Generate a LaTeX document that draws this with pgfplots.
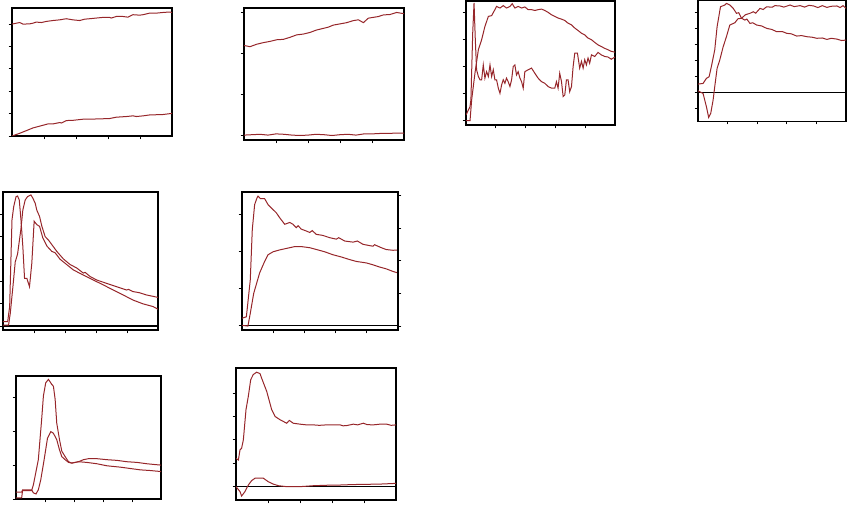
\documentclass[border=0pt]{standalone}
\usepackage{pgfplots}
\pgfplotsset{compat=1.18}
\definecolor{lc}{RGB}{150,38,42}
\pgfplotscreateplotcyclelist{mylist}{lc,line width=0.75pt,no markers,sharp plot\\}
\pgfplotsset{
  panel/.style={scale only axis, anchor=north west, xmin=0, xmax=100,
    xtick={20,40,60,80}, xticklabels={}, yticklabels={},
    tick align=outside, major tick length=2.5pt,
    xtick pos=left, ytick pos=left,
    axis line style={line width=0.8pt},
    every tick/.style={black, line width=0.6pt},
    cycle list name=mylist},
  zl/.style={black, line width=0.8pt}
}
\begin{document}
\begin{tikzpicture}
\useasboundingbox (0,0) rectangle (640.5pt,379.5pt);
% Panel 1
\begin{axis}[panel, at={(9pt,373.5pt)}, width=120pt, height=96pt, ymin=0, ymax=5.72, ytick={0,1,2,3,4,5}]
\addplot coordinates {(0,5.0) (2,5.03) (4.8,5.07) (6.9,5.0) (11,5.01) (13,5.04) (15.2,5.09) (18.3,5.07) (21.5,5.12) (25.6,5.16) (29.8,5.19) (33.9,5.24) (38.1,5.19) (42.3,5.16) (45.4,5.22) (48.5,5.24) (52.7,5.27) (56.9,5.30) (61,5.30) (62,5.27) (65.2,5.34) (69.4,5.34) (72.5,5.31) (75.6,5.42) (79.8,5.40) (81.9,5.42) (86,5.49) (90.2,5.49) (94.4,5.52) (98.5,5.54) (100,5.52)};
\addplot coordinates {(0,0) (4.8,0.12) (9,0.24) (13.1,0.36) (19.4,0.48) (22.5,0.54) (25.6,0.54) (29.8,0.60) (31,0.58) (34,0.69) (38.1,0.70) (44.4,0.75) (52.7,0.76) (61,0.78) (65.2,0.84) (71.5,0.87) (75.6,0.90) (77.7,0.87) (81.9,0.90) (86,0.94) (94.4,0.96) (100,1.01)};
\end{axis}
% Panel 2
\begin{axis}[panel, at={(183pt,373.5pt)}, width=120pt, height=99pt, ymin=-0.12, ymax=3.12, ytick={0,1,2,3}]
\addplot coordinates {(0,2.20) (3.75,2.17) (7.9,2.23) (12.1,2.27) (16.25,2.30) (20.4,2.34) (24.6,2.35) (28.75,2.40) (32.9,2.46) (37.1,2.48) (41.25,2.52) (45.4,2.58) (49.6,2.62) (52.7,2.65) (55.8,2.70) (60,2.73) (64.2,2.76) (68.3,2.81) (71.5,2.83) (74.6,2.76) (77.7,2.87) (80.8,2.89) (83.96,2.91) (87.1,2.95) (91.25,2.96) (95.4,3.01) (98.5,2.99) (100,2.98)};
\addplot coordinates {(0,0) (5,0.01) (10,0.02) (15,0) (20,0.03) (25,0.02) (30,0) (35,-0.01) (40,0) (45,0.02) (50,0.01) (55,-0.01) (60,0.01) (65,0.02) (70,0) (75,0.03) (80,0.03) (85,0.04) (90,0.04) (95,0.05) (100,0.05)};
\end{axis}
% Panel 3
\begin{axis}[panel, at={(349.5pt,378.75pt)}, width=111.75pt, height=93pt, ymin=-0.16, ymax=4.42, ytick={0,1,2,3,4}]
\addplot coordinates {(0,0.21) (2.7,0.52) (3.3,0.77) (4.5,3.23) (5.4,4.35) (6.25,2.99) (7.1,1.88) (8.3,1.63) (9.4,1.51) (10.5,1.51) (11.6,2.06) (12.7,1.57) (13.8,1.81) (15,1.63) (16.1,2.06) (17.2,1.63) (18.3,1.88) (19.4,1.51) (20.5,1.51) (21.7,1.20) (22.8,1.01) (23.9,1.32) (25,1.51) (26.1,1.38) (27.2,1.57) (28.3,1.44) (29.5,1.26) (30.6,1.51) (31.7,2.0) (32.8,2.06) (33.9,1.69) (35,1.81) (36.2,1.57) (37.3,1.44) (38.4,1.20) (39.5,1.81) (41.7,1.88) (44,1.94) (46.2,1.75) (48.4,1.57) (50.7,1.44) (52.9,1.38) (55.1,1.26) (57.4,1.20) (59.6,1.20) (60.7,1.44) (61.8,1.20) (62.9,1.75) (64.1,1.44) (65.2,0.89) (66.3,0.95) (67.4,1.51) (68.5,1.51) (69.6,1.07) (70.8,1.26) (71.9,2.0) (73,2.49) (74.8,2.49) (76.3,1.94) (77.5,2.19) (78.6,1.94) (79.7,2.25) (80.8,2.06) (81.9,2.31) (83,2.12) (84.2,2.43) (86.4,2.37) (88.6,2.52) (90.8,2.43) (93.1,2.37) (95.3,2.35) (97.5,2.27) (100,2.35)};
\addplot coordinates {(0,0) (2.7,0) (3.8,0.77) (6,1.75) (8.3,2.62) (10.5,2.99) (12.7,3.48) (15,3.85) (17.2,3.88) (19.4,4.10) (20.5,4.22) (22.8,4.16) (25,4.25) (27.2,4.16) (29.5,4.22) (31,4.32) (32.8,4.16) (35,4.22) (37.3,4.16) (39.5,4.20) (41.7,4.10) (44,4.10) (46.2,4.07) (48.4,4.10) (50.7,4.12) (52.9,4.07) (55.1,4.0) (57.4,3.91) (59.6,3.85) (61.8,3.79) (64.1,3.75) (66.3,3.70) (68.5,3.60) (70.8,3.54) (73,3.42) (75.2,3.33) (77.5,3.23) (79.7,3.17) (81.9,3.05) (84.2,2.99) (86.4,2.89) (88.6,2.80) (90.8,2.74) (93.1,2.67) (95.3,2.62) (97.5,2.56) (100,2.53)};
\end{axis}
% Panel 4
\begin{axis}[panel, at={(523.5pt,379.1pt)}, width=111pt, height=90.4pt, ymin=-1.79, ymax=5.74, ytick={-1,0,1,2,3,4,5}]
\addplot[zl] coordinates {(0,0) (100,0)};
\addplot coordinates {(0,0.52) (3.4,0.56) (5.7,0.88) (7.5,0.98) (9,1.60) (11.3,2.65) (12.9,4.10) (15.2,5.35) (18.1,5.46) (19.2,5.56) (21.5,5.46) (23.8,5.25) (26,4.94) (27.5,4.98) (29.4,4.63) (31.7,4.52) (33,4.58) (35.1,4.31) (37,4.35) (39.6,4.21) (43,4.15) (46.4,4.0) (50,3.93) (53.2,3.79) (57,3.80) (60,3.69) (63,3.66) (66.7,3.52) (70,3.55) (73.5,3.48) (77,3.45) (80.3,3.38) (84,3.40) (87.1,3.31) (90,3.38) (93.9,3.33) (97,3.24) (100,3.27)};
\addplot coordinates {(0,0.10) (3.4,-0.06) (5.7,-0.90) (7.2,-1.56) (8.6,-1.31) (10.2,-0.48) (11.3,0.35) (12.9,1.50) (14.7,2.02) (17,2.85) (19.2,3.48) (21.5,4.21) (24.9,4.35) (27,4.60) (29.4,4.63) (32,4.85) (35.1,4.94) (37.3,5.04) (39,4.95) (41.9,5.25) (44,5.18) (46.4,5.35) (50,5.32) (52,5.42) (55.4,5.40) (58,5.33) (62.2,5.46) (65,5.36) (69,5.42) (72,5.33) (75,5.44) (78.1,5.40) (81,5.30) (84,5.42) (87.1,5.31) (90,5.38) (93.9,5.40) (96,5.30) (98,5.42) (100,5.25)};
\end{axis}
% Panel 5
\begin{axis}[panel, at={(2.25pt,235.5pt)}, width=116.25pt, height=103.5pt, ymin=-0.18, ymax=6.0, ytick={0,1,2,3,4,5}]
\addplot[zl] coordinates {(0,0) (100,0)};
\addplot coordinates {(0,0.19) (3,0.19) (4.3,0.87) (5.8,4.75) (6.9,5.34) (8.4,5.79) (9.4,5.82) (10.5,5.64) (11.6,4.75) (12.8,3.55) (13.9,2.13) (15.4,2.13) (17.1,1.76) (18.6,2.82) (20.1,4.69) (21.8,4.54) (23.6,4.46) (25.7,3.94) (28.3,3.58) (31.5,3.34) (33.6,3.28) (36.8,2.99) (41.1,2.75) (45.4,2.51) (51.8,2.28) (58.2,2.06) (64.7,1.84) (71.1,1.61) (77.5,1.39) (83.9,1.16) (90.4,0.99) (96.8,0.87) (100,0.75)};
\addplot coordinates {(0,0.04) (3.6,0.04) (4.7,0.57) (6.4,1.76) (7.9,2.87) (9.4,3.22) (11.6,4.36) (12.8,5.19) (14.3,5.64) (15.8,5.79) (18,5.87) (19.3,5.72) (20.8,5.49) (21.8,5.19) (23.6,4.90) (25.1,4.46) (27.2,4.0) (29.3,3.85) (32.5,3.55) (34.7,3.34) (39,3.0) (43.3,2.75) (47.5,2.60) (51.8,2.37) (53,2.40) (56.1,2.22) (60.4,2.06) (66.8,1.91) (73.2,1.76) (79.7,1.61) (81,1.64) (83.9,1.54) (88,1.49) (92.5,1.39) (100,1.28)};
\end{axis}
% Panel 6
\begin{axis}[panel, at={(181.5pt,235.5pt)}, width=117pt, height=103.5pt, ymin=-0.126, ymax=3.59, ytick={0,1,2,3}]
\addplot[zl] coordinates {(0,0) (100,0)};
\addplot coordinates {(0,0.19) (2.8,0.23) (5.3,1.22) (6.6,2.58) (8.1,3.25) (9.6,3.43) (10.3,3.48) (11.8,3.41) (14.5,3.41) (16.7,3.25) (18.8,3.16) (22,3.03) (24.1,2.90) (27.4,2.72) (30.6,2.77) (32.7,2.72) (34.8,2.63) (36,2.68) (38,2.59) (41.2,2.54) (43.4,2.50) (45,2.55) (47.6,2.45) (51.9,2.42) (56.2,2.36) (60.5,2.32) (62,2.36) (65.8,2.27) (71.2,2.24) (74,2.27) (77.6,2.18) (83.9,2.13) (85,2.17) (89.3,2.09) (92.5,2.04) (96.8,2.02) (100,2.03)};
\addplot coordinates {(0,0) (3.8,-0.02) (5.3,0.32) (7.5,0.86) (11.3,1.41) (14.5,1.72) (16.7,1.90) (19.9,1.98) (24.1,2.03) (29.5,2.08) (33.8,2.12) (38,2.12) (43.4,2.09) (48.7,2.03) (53,1.98) (58.3,1.90) (63.7,1.84) (69,1.77) (73.3,1.72) (79.7,1.68) (83.9,1.63) (88.2,1.57) (92.5,1.52) (96.8,1.45) (100,1.41)};
\end{axis}
\begin{axis}[scale only axis, anchor=north west, at={(181.5pt,235.5pt)}, width=117pt, height=103.5pt, xmin=0, xmax=100, ymin=-0.12, ymax=4.11, axis x line=none, axis y line*=right, ytick={0,1,2,3,4}, yticklabels={}, tick align=outside, major tick length=2.5pt, axis line style={line width=0.8pt}, every tick/.style={black, line width=0.6pt}]
\addplot[draw=none] coordinates {(0,0)};
\end{axis}
% Panel 7
\begin{axis}[panel, at={(12pt,97.5pt)}, width=108.75pt, height=92.25pt, ymin=0, ymax=3.63, ytick={0,1,2,3}]
\addplot coordinates {(0,0.20) (3.9,0.20) (4.4,0.25) (10.8,0.25) (12,0.42) (15.4,1.16) (17.7,2.35) (18.9,3.04) (20.5,3.43) (22.4,3.53) (24.7,3.38) (25.8,3.33) (27,2.94) (28.1,2.24) (30,1.75) (31.6,1.41) (33.9,1.25) (36.2,1.10) (38.5,1.06) (40.8,1.08) (43.1,1.10) (48.8,1.08) (55.8,1.04) (62.7,0.98) (71.9,0.94) (78.8,0.90) (85.7,0.86) (92.6,0.84) (100,0.81)};
\addplot coordinates {(0,0.03) (3.9,0.03) (4.6,0.27) (10.8,0.27) (12,0.18) (13.8,0.15) (15.4,0.27) (17.1,0.57) (19.4,1.16) (21.7,1.79) (24,1.99) (25.8,1.94) (28.1,1.75) (30,1.45) (31.6,1.25) (33.9,1.16) (36.2,1.08) (38.5,1.06) (43.1,1.10) (46.5,1.16) (50,1.19) (55.8,1.19) (62.7,1.16) (69.6,1.14) (76.5,1.10) (83.4,1.08) (90.3,1.04) (94.9,1.02) (100,1.0)};
\end{axis}
% Panel 8
\begin{axis}[panel, at={(177pt,103.5pt)}, width=120pt, height=99pt, ymin=-0.57, ymax=5.07, ytick={0,1,2,3,4}]
\addplot[zl] coordinates {(0,0) (100,0)};
\addplot coordinates {(0,1.21) (1.5,1.14) (2.5,1.57) (3.5,1.64) (4.6,2.0) (6.25,3.29) (7.7,3.86) (9.2,4.57) (10.8,4.79) (12.9,4.89) (15,4.83) (16,4.64) (19.2,4.07) (22.3,3.29) (24.4,3.0) (27.5,2.86) (31.7,2.71) (33.3,2.83) (35.8,2.71) (40,2.67) (44,2.64) (48.3,2.64) (52,2.62) (56.7,2.64) (65,2.64) (67,2.60) (69.2,2.61) (73.3,2.67) (76,2.64) (79.6,2.71) (82,2.65) (85.8,2.64) (90,2.67) (94.2,2.67) (97,2.62) (100,2.64)};
\addplot coordinates {(0,0) (2.5,-0.21) (3.5,-0.40) (5.6,-0.21) (7.7,0.07) (9.8,0.26) (11.9,0.36) (17.1,0.36) (20.2,0.21) (23.3,0.11) (26.5,0.04) (31.7,0) (40,0) (48.3,0.04) (56.7,0.06) (65,0.07) (73.3,0.09) (81.7,0.10) (90,0.11) (100,0.14)};
\end{axis}
\end{tikzpicture}
\end{document}
